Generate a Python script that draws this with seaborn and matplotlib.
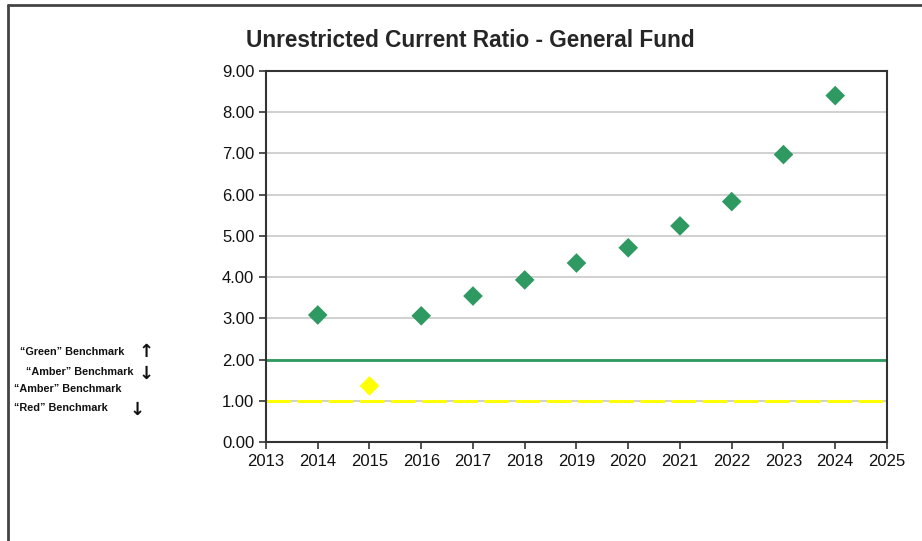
import matplotlib
matplotlib.use("Agg")
import matplotlib.pyplot as plt
from matplotlib.lines import Line2D
import seaborn as sns
import pandas as pd

years = [2014, 2015, 2016, 2017, 2018, 2019, 2020, 2021, 2022, 2023, 2024]
ratios = [3.08, 1.36, 3.06, 3.54, 3.93, 4.34, 4.71, 5.24, 5.83, 6.97, 8.40]
status = ["green", "amber", "green", "green", "green", "green", "green",
          "green", "green", "green", "green"]
green_benchmark = 2.0
red_benchmark = 1.0
x_ticks = list(range(2013, 2026))
y_ticks = [0, 1, 2, 3, 4, 5, 6, 7, 8, 9]

palette = {"green": "#2e9960", "amber": "#ffff00"}

df = pd.DataFrame({"year": years, "ratio": ratios, "status": status})

sns.set_theme(style="white")
plt.rcParams["font.family"] = ["Liberation Sans", "DejaVu Sans"]

fig = plt.figure(figsize=(9.22, 5.41), dpi=100)
ax = fig.add_axes([0.2885, 0.183, 0.6735, 0.686])

for y in y_ticks[1:]:
    ax.axhline(y, color="#c8c8c8", lw=1.2, zorder=0)
ax.axhline(green_benchmark, color="#2e9960", lw=2, zorder=1)
ax.axhline(red_benchmark, color="#ffff00", lw=2.2, ls=(0, (8, 2.2)), zorder=1)

sns.scatterplot(data=df, x="year", y="ratio", hue="status", palette=palette,
                marker="D", s=100, edgecolor="none", legend=False, ax=ax, zorder=3)

ax.set_xlim(2013, 2025)
ax.set_ylim(0, 9)
ax.set_xticks(x_ticks)
ax.set_yticks(y_ticks)
ax.set_yticklabels([f"{v:.2f}" for v in y_ticks])
ax.set_xlabel("")
ax.set_ylabel("")
for side in ["left", "bottom", "right", "top"]:
    ax.spines[side].set_visible(True)
    ax.spines[side].set_color("#333333")
    ax.spines[side].set_linewidth(1.5)
ax.tick_params(axis="both", direction="out", length=5, width=1.2,
               color="#333333", labelsize=12, labelcolor="#111111",
               bottom=True, left=True)

fig.text(0.51, 0.926, "Unrestricted Current Ratio - General Fund",
         ha="center", va="center", fontsize=16.3, fontweight="bold")

# benchmark notes on the left
notes = [("\u201cGreen\u201d Benchmark", 0.022, 352),
         ("\u201cAmber\u201d Benchmark", 0.028, 372),
         ("\u201cAmber\u201d Benchmark", 0.015, 389),
         ("\u201cRed\u201d Benchmark", 0.015, 408)]
for text, x, ypix in notes:
    fig.text(x, 1 - ypix / 541, text, ha="left", va="center",
             fontsize=7.8, fontweight="bold", color="#111111")
for ch, x, ypix in [("\u2191", 0.158, 352), ("\u2193", 0.158, 374),
                    ("\u2193", 0.149, 410)]:
    fig.text(x, 1 - ypix / 541, ch, ha="center", va="center",
             fontsize=13, fontweight="bold", color="#111111",
             family=["DejaVu Sans"])

# outer frame lines (top and left)
fig.add_artist(Line2D([0.009, 1.0], [0.991, 0.991], color="#444444", lw=2))
fig.add_artist(Line2D([0.009, 0.009], [0.0, 0.991], color="#444444", lw=2))

fig.savefig("out.png", dpi=100)
